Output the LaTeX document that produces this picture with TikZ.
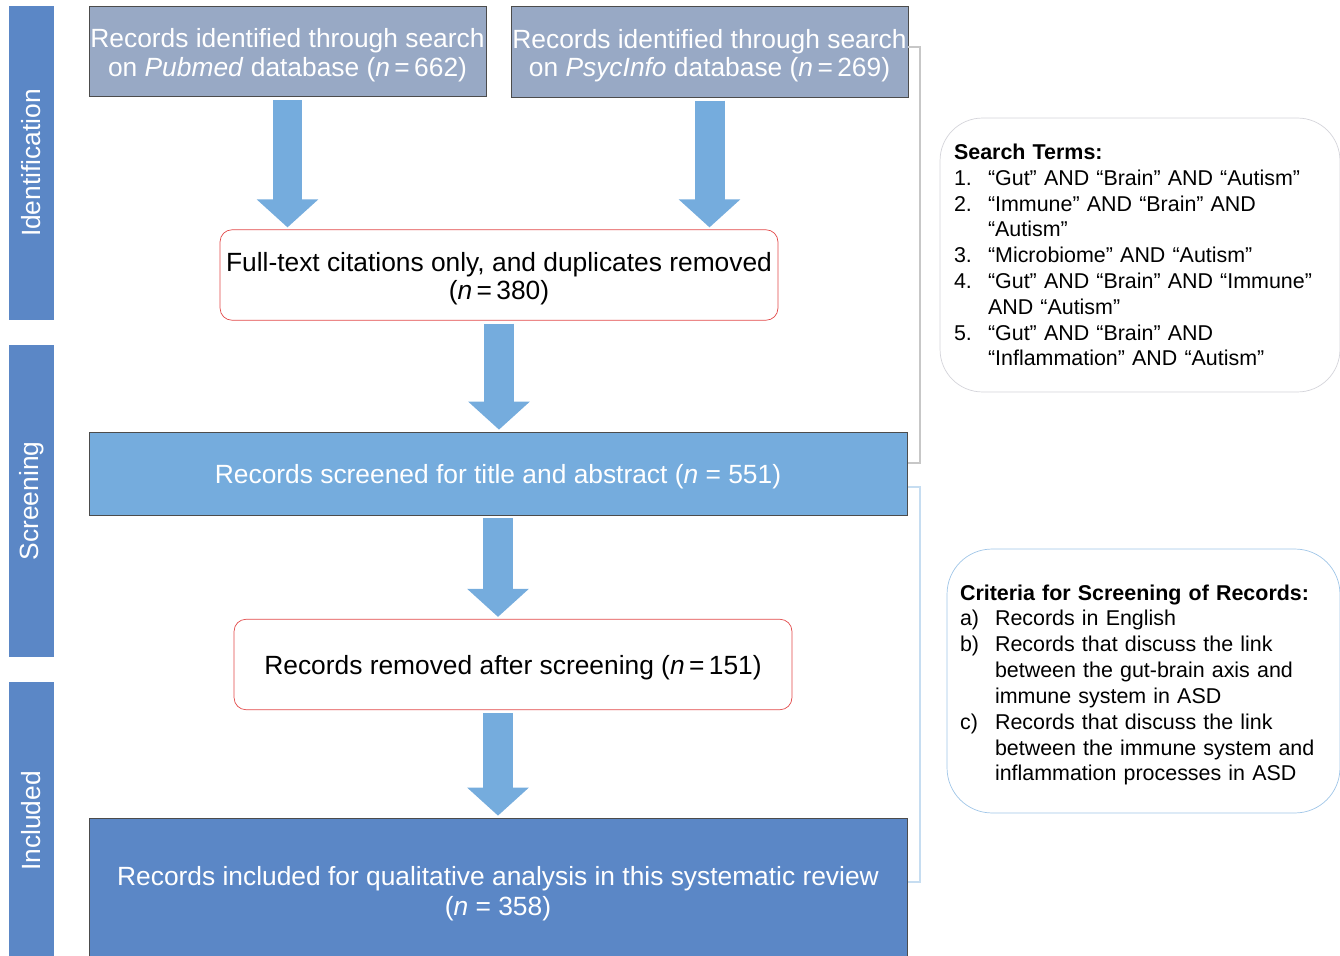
\documentclass[tikz,border=0pt]{standalone}
\usepackage{fontspec}
\setmainfont{Liberation Sans}
\usetikzlibrary{arrows.meta,positioning}

\definecolor{phaseblue}{RGB}{91,135,198}
\definecolor{srcgrey}{RGB}{152,169,197}
\definecolor{arrowblue}{RGB}{117,172,221}
\definecolor{exclred}{RGB}{226,72,72}
\definecolor{notegrey}{RGB}{212,212,218}
\definecolor{noteblue}{RGB}{160,198,232}

\newcommand\entry[3][0.68cm]{\makebox[#1][l]{#2}#3}
\newcommand\lift{\rule{0pt}{15pt}}

\begin{document}
\begin{tikzpicture}[
  x=0.02cm,y=-0.02cm,
  phase/.style={fill=phaseblue,text=white,minimum height=0.9cm,rotate=90,
    font=\fontsize{15}{16}\selectfont},
  source/.style={draw=black!70,fill=srcgrey,text=white,minimum width=7.94cm,
    minimum height=1.81cm,inner xsep=0pt,align=center,font=\fontsize{15}{16}\selectfont},
  filter/.style={draw=exclred,fill=white,rounded corners=0.24cm,minimum width=11.16cm,
    minimum height=1.81cm,align=center,font=\fontsize{15}{16}\selectfont},
  stage/.style={draw=black!70,text=white,minimum width=16.36cm,align=center,
    font=\fontsize{15}{17.5}\selectfont},
  note/.style={fill=white,align=left,inner ysep=0pt,font=\fontsize{12.2}{14.7}\selectfont},
  fat/.style={draw=arrowblue,line width=0.6cm,
    -{Triangle[length=0.56cm,width=1.2cm]},shorten <=0.06cm,shorten >=0.04cm},
  brace/.style={draw=black!22,line width=0.6pt}
]
  \useasboundingbox (0,0) rectangle (1340,956);

  % phase bars
  \node[phase,minimum width=6.28cm] (ident) at (31.5,163) {Identification};
  \node[phase,minimum width=6.24cm] (screen) at (31.5,501) {Screening};
  \node[phase,minimum width=5.56cm] (incl) at (31.5,821) {Included};

  % flow
  \node[source] (pubmed) at (287.5,51.5)
    {\lift Records identified through search\\on \textit{Pubmed} database (\textit{n}\,=\,662)};
  \node[source] (psyc) at (709.5,52)
    {\lift Records identified through search\\on \textit{PsycInfo} database (\textit{n}\,=\,269)};
  \node[filter] (fulltext) at (499,275)
    {\lift Full-text citations only, and duplicates removed\\(\textit{n}\,=\,380)};
  \node[stage,fill=arrowblue,minimum height=1.66cm] (screened) at (498,473.5)
    {\lift Records screened for title and abstract (\textit{n} = 551)};
  \node[filter] (removed) at (513,664.5)
    {\lift Records removed after screening (\textit{n}\,=\,151)};
  \node[stage,fill=phaseblue,minimum height=2.88cm] (included) at (498,890)
    {\lift Records included for qualitative analysis in this systematic review\\(\textit{n} = 358)};

  \draw[fat] (pubmed.south) -- (pubmed.south |- fulltext.north);
  \draw[fat] (psyc.south) -- (psyc.south |- fulltext.north);
  \draw[fat] (fulltext.south) -- (fulltext.south |- screened.north);
  \draw[fat] (screened.south) -- (screened.south |- removed.north);
  \draw[fat] (screened.south |- removed.south) -- (screened.south |- included.north);

  % side notes
  \node[note,draw=notegrey,rounded corners=0.85cm,minimum width=8cm,minimum height=5.48cm,
    text width=7.44cm,inner xsep=0.28cm] (terms) at (1140,255)
    {\textbf{Search Terms:}\\
     \entry{1.}{“Gut” AND “Brain” AND “Autism”}\\
     \entry{2.}{“Immune” AND “Brain” AND}\\
     \entry{}{“Autism”}\\
     \entry{3.}{“Microbiome” AND “Autism”}\\
     \entry{4.}{“Gut” AND “Brain” AND “Immune”}\\
     \entry{}{AND “Autism”}\\
     \entry{5.}{“Gut” AND “Brain” AND}\\
     \entry{}{“Inflammation” AND “Autism”}};
  \node[note,draw=noteblue,rounded corners=0.9cm,minimum width=7.86cm,minimum height=5.28cm,
    text width=7.34cm,inner xsep=0.26cm] (criteria) at (1143.5,681)
    {\rule{0pt}{13.4pt}\textbf{Criteria for Screening of Records:}\\
     \entry[0.7cm]{a)}{Records in English}\\
     \entry[0.7cm]{b)}{Records that discuss the link}\\
     \entry[0.7cm]{}{between the gut-brain axis and}\\
     \entry[0.7cm]{}{immune system in ASD}\\
     \entry[0.7cm]{c)}{Records that discuss the link}\\
     \entry[0.7cm]{}{between the immune system and}\\
     \entry[0.7cm]{}{inflammation processes in ASD}};

  % brackets
  \draw[brace] (908,47) -| (920,463) -- (908,463);
  \draw[brace,draw=noteblue!60] (908,487) -| (920,882) -- (908,882);
\end{tikzpicture}
\end{document}
